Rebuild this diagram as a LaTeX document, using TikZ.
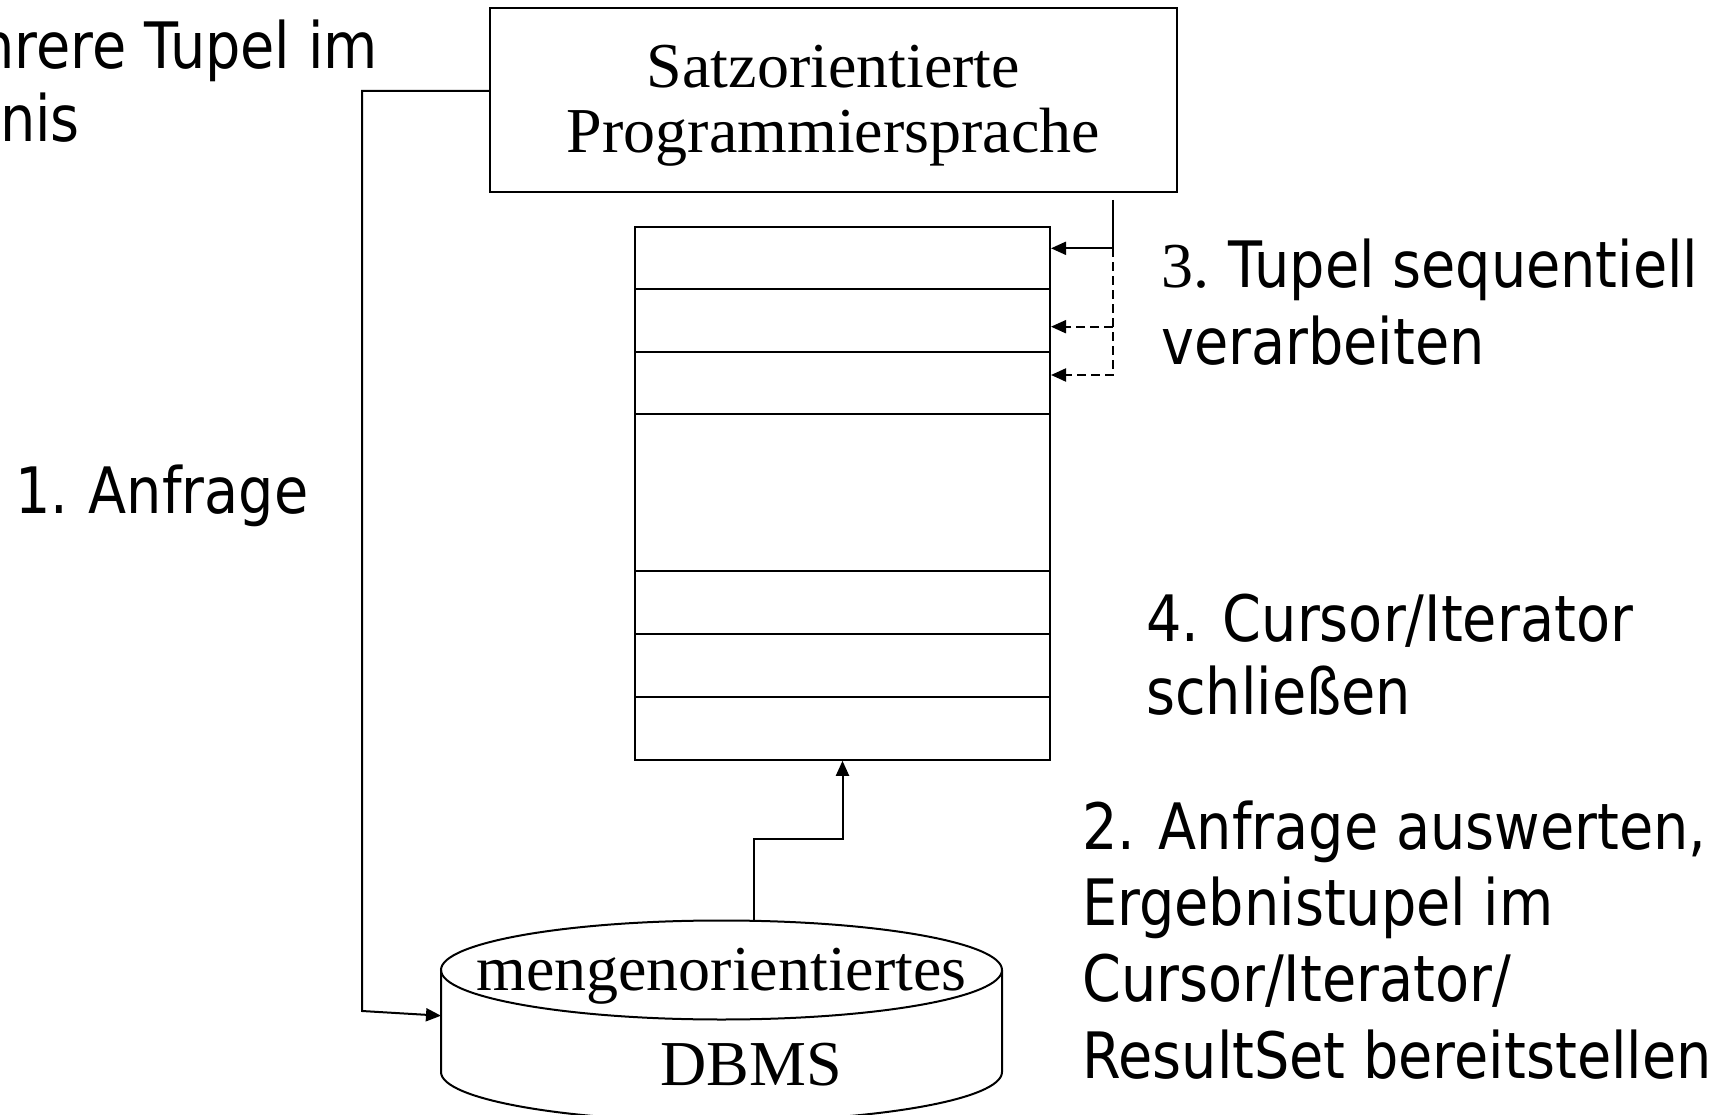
\documentclass[tikz,border=0pt]{standalone}
\usepackage{fontspec}
\usetikzlibrary{arrows.meta}
\newfontfamily\tah[FakeStretch=0.87]{DejaVu Sans}
\newfontfamily\tms{Liberation Serif}
\begin{document}
\begin{tikzpicture}[x=1pt,y=-1pt,
  ln/.style={line width=2pt},
  box/.style={draw, ln, inner sep=0pt},
  lbl/.style={inner sep=0pt, anchor=base west, font=\tah\fontsize{64}{76}\selectfont},
  tm/.style={inner sep=0pt, anchor=base, font=\tms\fontsize{64}{66}\selectfont},
  arr/.style={ln, -{Triangle[length=15pt,width=13pt]}},
  dsh/.style={arr, dash pattern=on 9pt off 5pt}]
\path[use as bounding box] (0,0) rectangle (1717,1115);

% top box
\node[box, minimum width=687.5pt, minimum height=184pt] (prog) at (833.5,99.7) {};
\node[tm] (progA) at (833.5,88) {Satzorientierte};
\node[tm] (progB) at (833.5,153) {Programmiersprache};

% result stack
\node[box, minimum width=415pt, minimum height=533pt] (stack) at (842.5,493.3) {};
\foreach \yy in {288.8,351.7,413.8,571,634,697}
  \draw[ln] (635,\yy) -- (1050,\yy);

% cylinder
\draw[ln, fill=white] (441,970) -- (441,1072)
  arc[start angle=180, end angle=0, x radius=280.5, y radius=49.5] -- (1002,970);
\draw[ln] (721.5,970) ellipse [x radius=280.5, y radius=49.5];
\node[tm] (dbA) at (721.5,990) {mengenorientiertes};
\node[tm] (dbB) at (751,1085) {DBMS};

% connector 1: query
\coordinate (q1) at (362,91);
\coordinate (q2) at (362,1011);
\coordinate (dbin) at (441,1015.7);
\draw[arr] ([yshift=8.7pt]prog.west) -- (q1) -- (q2) -- (dbin);

% connector 2: results into stack
\coordinate (dbtop) at (753.6,920.8);
\coordinate (m1) at (753.6,839);
\draw[arr] (dbtop) -- (m1) -| (stack.south);

% connector 3: sequential processing
\coordinate (r0) at (1113,200);
\coordinate (r1) at (1113,248.3);
\coordinate (r2) at (1113,326.7);
\coordinate (r3) at (1113,375);
\draw[arr] (r0) -- (r1) -- (stack.east |- r1);
\draw[dsh] (r1) -- (r3) -- (stack.east |- r3);
\draw[dsh] (r2) -- (stack.east |- r2);

% labels
\node[lbl, anchor=base east] (t0a) at (378,69) {hrere Tupel im};
\node[lbl, anchor=base east] (t0b) at (80,142) {nis};
\node[lbl] (t1) at (15,513) {1.\kern-3pt{} Anfrage};
\node[lbl] (t3a) at (1161,288) {{\tms 3.}\kern-4pt{} Tupel sequentiell};
\node[lbl] (t3b) at (1161,365) {verarbeiten};
\node[lbl] (t4a) at (1146,641) {4. Cursor/Iterator};
\node[lbl] (t4b) at (1146,714) {schließen};
\node[lbl] (t2a) at (1082,849) {2. Anfrage auswerten,};
\node[lbl] (t2b) at (1082,925) {Ergebnistupel im};
\node[lbl] (t2c) at (1082,1001) {Cursor/Iterator/};
\node[lbl] (t2d) at (1082,1078) {ResultSet bereitstellen};
\end{tikzpicture}
\end{document}
